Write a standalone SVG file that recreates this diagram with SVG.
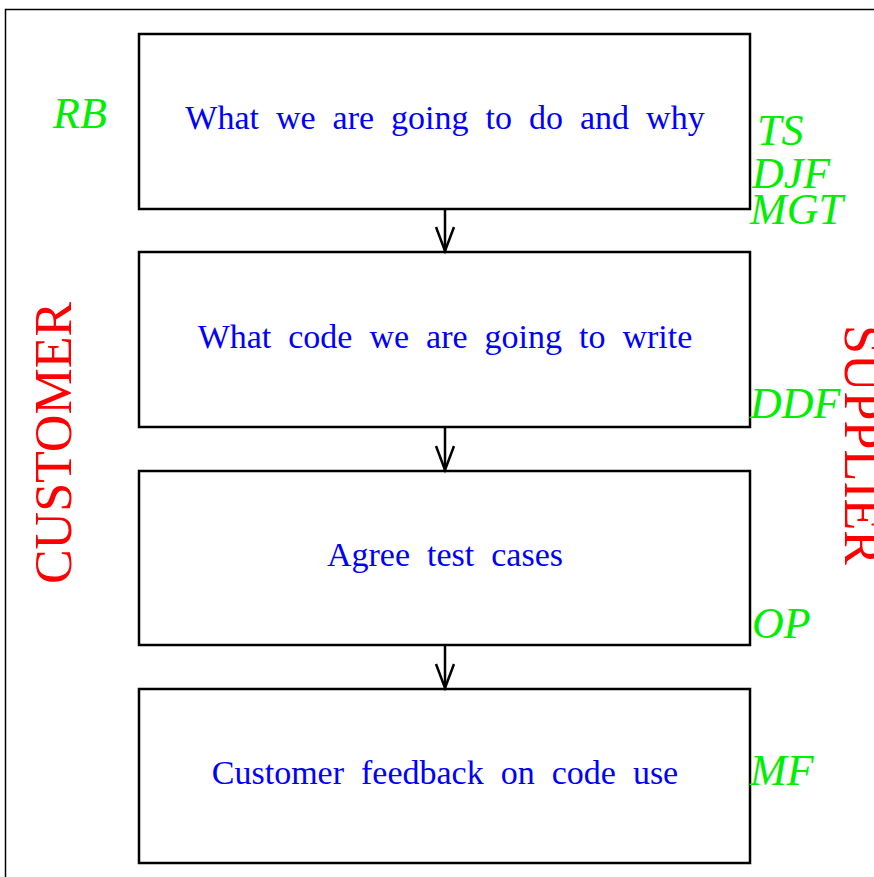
<svg xmlns="http://www.w3.org/2000/svg" width="874" height="877" viewBox="0 0 874 877">
<defs>
<style>
.box{fill:#fff;stroke:#000;stroke-width:2.5}
.t{font-family:"Liberation Serif",serif;font-size:34px;fill:#0000ff;text-anchor:middle;word-spacing:8.5px}
.g{font-family:"Liberation Serif",serif;font-style:italic;font-size:44px;fill:#00ee00}
.r{font-family:"Liberation Serif",serif;font-size:52px;fill:#ff0000;text-anchor:middle}
.c{stroke:#000;stroke-width:2.5;fill:none}
</style>
<marker id="ah" markerWidth="30" markerHeight="24" refX="25" refY="10" orient="auto" markerUnits="userSpaceOnUse">
<path d="M1,1 L25,10 L1,19" fill="none" stroke="#000" stroke-width="2.5"/>
</marker>
</defs>
<rect width="874" height="877" fill="#fff"/>
<path d="M5.5,877 V9.5 H874" fill="none" stroke="#000" stroke-width="1.5"/>
<g id="n1"><rect class="box" x="139" y="34" width="611" height="175"/><text class="t" x="445" y="129">What we are going to do and why</text></g>
<g id="n2"><rect class="box" x="139" y="252" width="611" height="175"/><text class="t" x="445" y="348">What code we are going to write</text></g>
<g id="n3"><rect class="box" x="139" y="471" width="611" height="174"/><text class="t" x="445" y="566">Agree test cases</text></g>
<g id="n4"><rect class="box" x="139" y="689" width="611" height="174"/><text class="t" x="445" y="784">Customer feedback on code use</text></g>
<g id="connectors">
<line class="c" x1="445" y1="209" x2="445" y2="251" marker-end="url(#ah)"/>
<line class="c" x1="445" y1="427" x2="445" y2="470" marker-end="url(#ah)"/>
<line class="c" x1="445" y1="645" x2="445" y2="688" marker-end="url(#ah)"/>
</g>
<g id="labels">
<text class="g" x="53" y="128">RB</text>
<text class="g" x="757" y="145">TS</text>
<text class="g" x="752" y="188">DJF</text>
<text class="g" x="750" y="224">MGT</text>
<text class="g" x="750" y="418">DDF</text>
<text class="g" x="752" y="638">OP</text>
<text class="g" x="750" y="785">MF</text>
<text class="r" transform="translate(71,443) rotate(-90)">CUSTOMER</text>
<text class="r" transform="translate(845,445) rotate(90)">SUPPLIER</text>
</g>
</svg>
